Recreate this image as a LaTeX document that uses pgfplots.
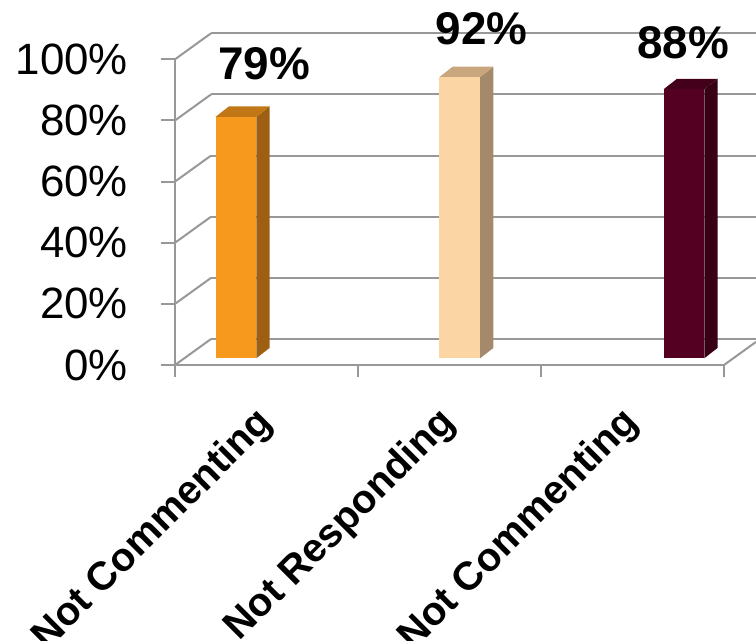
\documentclass[border=0pt]{standalone}
\usepackage{pgfplots}
\pgfplotsset{compat=1.18}
\usepackage{fontspec}
\setmainfont{Liberation Sans}
\definecolor{gridc}{RGB}{152,152,152}
\definecolor{orF}{RGB}{247,153,28}
\definecolor{orT}{RGB}{194,119,23}
\definecolor{orS}{RGB}{158,95,19}
\definecolor{ltF}{RGB}{252,213,164}
\definecolor{ltT}{RGB}{201,166,126}
\definecolor{ltS}{RGB}{164,137,106}
\definecolor{dkF}{RGB}{84,0,34}
\definecolor{dkT}{RGB}{66,0,26}
\definecolor{dkS}{RGB}{56,0,22}
\begin{document}
\begin{tikzpicture}
\begin{axis}[
  x=183bp, y=3.057bp,
  xmin=0, xmax=3.175, ymin=-3.8, ymax=108.5,
  clip=false,
  axis x line=bottom, axis y line=left,
  axis line style={draw=none},
  tick style={draw=none}, major tick length=0pt,
  /pgf/number format/assume math mode=true,
  unbounded coords=jump,
  xtick={0.5,1.5,2.5},
  xticklabels={Not Commenting, Not Responding, Not Commenting},
  xticklabel style={rotate=45, anchor=north east, inner sep=0pt,
    font=\fontsize{40}{44}\selectfont\bfseries, yshift=-10bp, xshift=-28bp},
  ytick={0,20,40,60,80,100},
  yticklabel={\pgfmathprintnumber{\tick}\%},
  yticklabel style={anchor=east, inner sep=0pt, xshift=-47bp,
    font=\fontsize{44}{48}\selectfont},
]
% back wall grid lines
\addplot[gridc, line width=2bp] coordinates {
 (0.1967,8.5) (3.175,8.5) (nan,nan)
 (0.1967,28.5) (3.175,28.5) (nan,nan)
 (0.1967,48.5) (3.175,48.5) (nan,nan)
 (0.1967,68.5) (3.175,68.5) (nan,nan)
 (0.1967,88.5) (3.175,88.5) (nan,nan)
 (0.1967,108.5) (3.175,108.5)
};
% side diagonals
\addplot[gridc, line width=2bp] coordinates {
 (0,0) (0.1967,8.5) (nan,nan)
 (0,20) (0.1967,28.5) (nan,nan)
 (0,40) (0.1967,48.5) (nan,nan)
 (0,60) (0.1967,68.5) (nan,nan)
 (0,80) (0.1967,88.5) (nan,nan)
 (0,100) (0.1967,108.5) (nan,nan)
 (3,0) (3.1749,7.56)
};
% front axis lines and ticks
\addplot[gridc, line width=2bp] coordinates {
 (0,-3.8) (0,100) (nan,nan)
 (0,0) (3,0) (nan,nan)
 (-0.0765,0) (0,0) (nan,nan)
 (-0.0765,20) (0,20) (nan,nan)
 (-0.0765,40) (0,40) (nan,nan)
 (-0.0765,60) (0,60) (nan,nan)
 (-0.0765,80) (0,80) (nan,nan)
 (-0.0765,100) (0,100) (nan,nan)
 (1,0) (1,-3.8) (nan,nan)
 (2,0) (2,-3.8) (nan,nan)
 (3,0) (3,-3.8)
};
% bar 1 (79%)
\addplot[fill=orS, draw=none, yshift=6.7bp] coordinates {(0.4442,0) (0.5169,3.4) (0.5169,82.4) (0.4442,79)} -- cycle;
\addplot[fill=orT, draw=none, yshift=6.7bp] coordinates {(0.2218,79) (0.4442,79) (0.5169,82.4) (0.2945,82.4)} -- cycle;
\addplot[ybar, bar width=0.2224, bar shift=0pt, fill=orF, draw=none, yshift=6.7bp,
  nodes near coords={\pgfmathprintnumber{\pgfplotspointmeta}\%},
  nodes near coords style={anchor=center, inner sep=0pt, xshift=28bp, yshift=52.6bp,
    font=\fontsize{46}{50}\selectfont\bfseries, black}]
  coordinates {(0.333,79)};
% bar 2 (92%)
\addplot[fill=ltS, draw=none, yshift=6.7bp] coordinates {(1.6672,0) (1.7399,3.4) (1.7399,95.4) (1.6672,92)} -- cycle;
\addplot[fill=ltT, draw=none, yshift=6.7bp] coordinates {(1.4448,92) (1.6672,92) (1.7399,95.4) (1.5175,95.4)} -- cycle;
\addplot[ybar, bar width=0.2224, bar shift=0pt, fill=ltF, draw=none, yshift=6.7bp,
  nodes near coords={\pgfmathprintnumber{\pgfplotspointmeta}\%},
  nodes near coords style={anchor=center, inner sep=0pt, xshift=22bp, yshift=48.8bp,
    font=\fontsize{46}{50}\selectfont\bfseries, black}]
  coordinates {(1.556,92)};
% bar 3 (88%)
\addplot[fill=dkS, draw=none, yshift=6.7bp] coordinates {(2.8922,0) (2.9649,3.4) (2.9649,91.4) (2.8922,88)} -- cycle;
\addplot[fill=dkT, draw=none, yshift=6.7bp] coordinates {(2.6698,88) (2.8922,88) (2.9649,91.4) (2.7425,91.4)} -- cycle;
\addplot[ybar, bar width=0.2224, bar shift=0pt, fill=dkF, draw=none, yshift=6.7bp,
  nodes near coords={\pgfmathprintnumber{\pgfplotspointmeta}\%},
  nodes near coords style={anchor=center, inner sep=0pt, xshift=-0.7bp, yshift=46.3bp,
    font=\fontsize{46}{50}\selectfont\bfseries, black}]
  coordinates {(2.781,88)};
\coordinate (BL) at (axis cs:-0.9563,-90.28);
\coordinate (TR) at (axis cs:3.1749,119.4);
\end{axis}
\pgfresetboundingbox
\path[use as bounding box] (BL) rectangle (TR);
\end{tikzpicture}
\end{document}
